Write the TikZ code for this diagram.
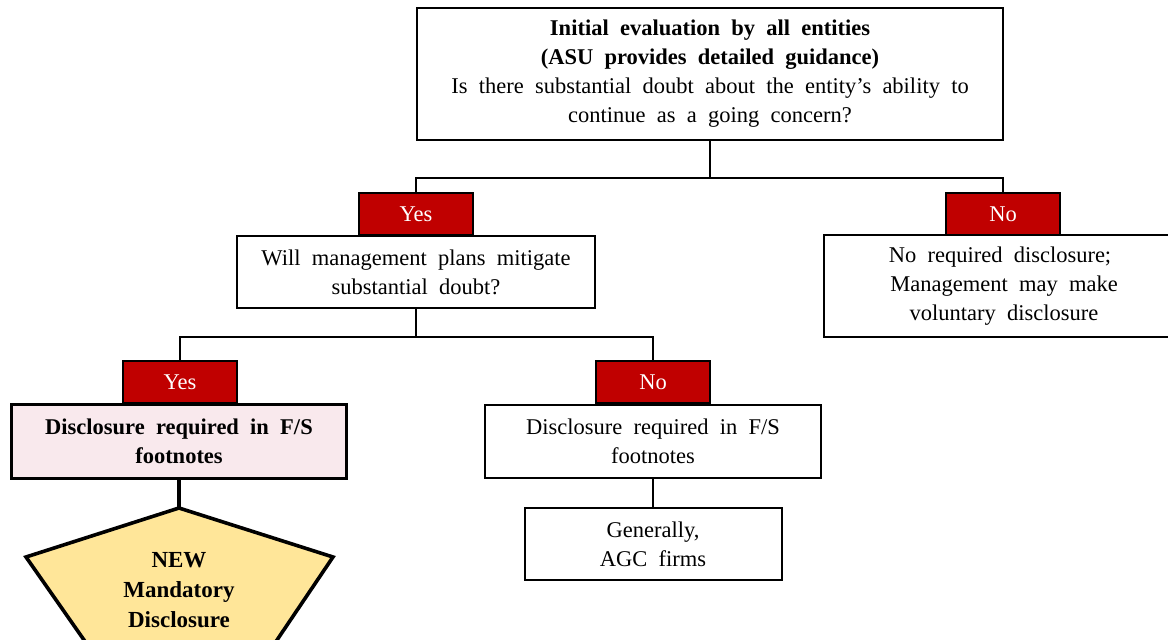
\documentclass[tikz,border=0pt]{standalone}
\usepackage{fontspec}
\setmainfont{Liberation Serif}
\newcommand{\boxfont}{\fontsize{22.5}{29}\selectfont\spaceskip=0.5em plus 0.1em}
\begin{document}
\begin{tikzpicture}[x=1pt,y=-1pt,
  box/.style={draw=black,line width=2pt,fill=white,align=center,inner sep=0pt,
    font=\boxfont},
  tab/.style={draw=black,line width=2pt,fill=tabred,text=white,inner sep=0pt,
    minimum width=114pt,minimum height=42pt,font=\fontsize{22.5}{26}\selectfont},
  thickbox/.style={box,line width=3.6pt},
  conn/.style={draw=black,line width=2pt}]
\definecolor{tabred}{RGB}{192,0,0}
\definecolor{pinkfill}{RGB}{249,233,237}
\definecolor{yellowfill}{RGB}{255,230,153}
\useasboundingbox (0,0) rectangle (1168,640);
\clip (0,0) rectangle (1168,640);

% top question
\node[box,minimum width=586pt,minimum height=132pt] (top) at (710,74)
  {\textbf{Initial evaluation by all entities}\\
   \textbf{(ASU provides detailed guidance)}\\
   Is there substantial doubt about the entity’s ability to\\
   continue as a going concern?};

% level 1
\node[box,minimum width=358pt,minimum height=72pt] (mgmt) at (416,272)
  {Will management plans mitigate\\ substantial doubt?};
\node[tab] (yes1) at (416,214) {Yes};
\node[box,minimum width=360pt,minimum height=102pt,anchor=west] (right) at (823,286)
  {\hspace*{-8pt}No required disclosure;\\ Management may make\\ voluntary disclosure};
\node[tab] (no1) at (1003,214) {No};

% level 2
\node[thickbox,fill=pinkfill,minimum width=335pt,minimum height=74pt] (pink) at (179,441.5)
  {\textbf{Disclosure required in F/S}\\ \textbf{footnotes}};
\node[tab] (yes2) at (180,382) {Yes};
\node[box,minimum width=336pt,minimum height=73pt] (mid) at (653,441.5)
  {Disclosure required in F/S\\ footnotes};
\node[tab] (no2) at (653,382) {No};
\node[box,minimum width=257pt,minimum height=72pt] (gen) at (653,544)
  {Generally,\\ AGC firms};

% pentagon
\coordinate (papex) at (179,508);
\filldraw[fill=yellowfill,draw=black,line width=3.6pt,line join=miter]
  (papex) -- (333,557) -- (250,680) -- (112,680) -- (26,557) -- cycle;
\node[align=center,inner sep=0pt,font=\fontsize{23}{30}\selectfont\bfseries] (pent) at (179,590)
  {NEW\\ Mandatory\\ Disclosure};

% connectors
\coordinate (j1) at (710,178);
\coordinate (j2) at (416,337);
\draw[conn] (top.south) -- (j1);
\draw[conn] (yes1.north) |- (j1) -| (no1.north);
\draw[conn] (mgmt.south) -- (j2);
\draw[conn] (yes2.north) |- (j2) -| (no2.north);
\draw[conn,line width=3.6pt] (pink.south) -- (papex);
\draw[conn] (mid.south) -- (gen.north);
\end{tikzpicture}
\end{document}
